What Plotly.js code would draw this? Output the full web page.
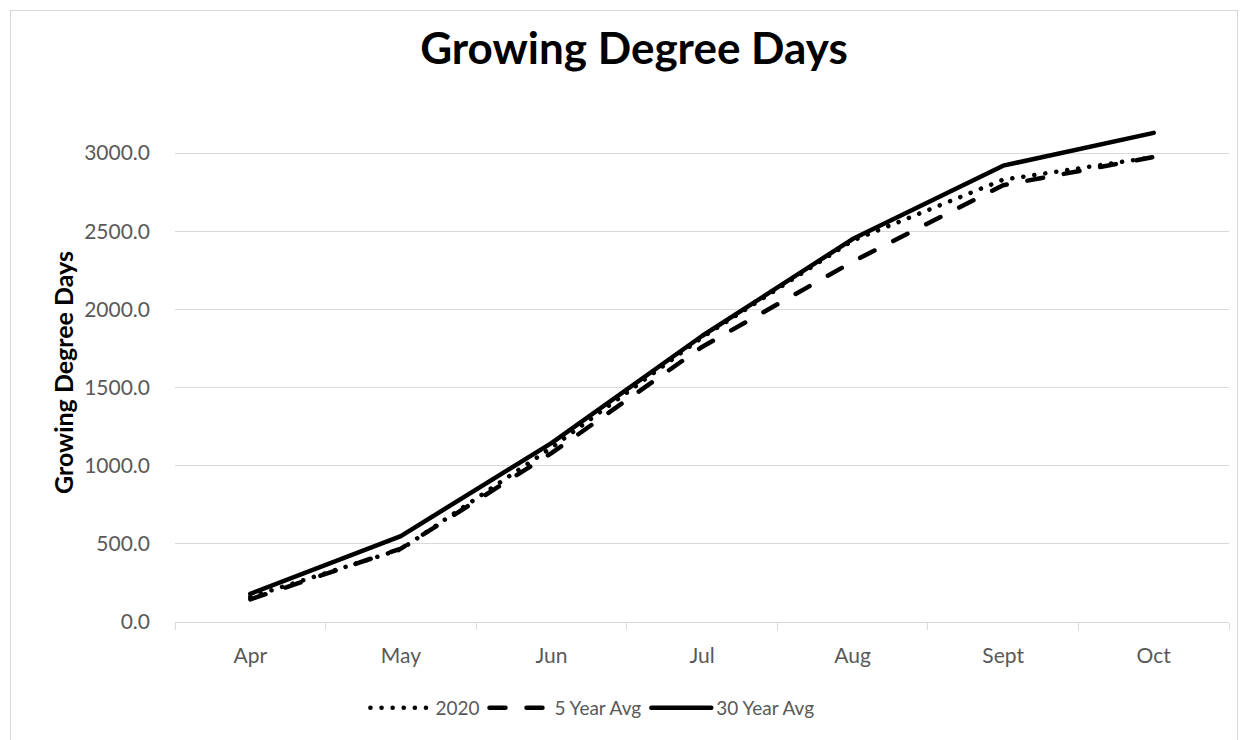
<!DOCTYPE html>
<html>
<head>
<meta charset="utf-8">
<script src="https://cdn.plot.ly/plotly-3.0.1.min.js"></script>
<style>
  html, body { margin: 0; padding: 0; background: #ffffff; }
  #frame { position: absolute; left: 10px; top: 10px; width: 1228px; height: 760px; border: 1px solid #d9d9d9; box-sizing: border-box; pointer-events: none; z-index: 5; }
  #chart { position: absolute; left: 0; top: 0; width: 1248px; height: 740px; }
  path.js-line { stroke-linecap: round !important; stroke-linejoin: round !important; }
</style>
</head>
<body>
<div id="chart"></div>
<div id="frame"></div>
<script>
const months = ["Apr", "May", "Jun", "Jul", "Aug", "Sept", "Oct"];
const gdd2020 = [160, 465, 1115, 1820, 2440, 2830, 2975];
const gdd5yr = [145, 470, 1080, 1760, 2305, 2795, 2975];
const gdd30yr = [180, 550, 1145, 1830, 2450, 2920, 3130];
const yTicks = [0, 500, 1000, 1500, 2000, 2500, 3000];
const yTitle = "Growing Degree Days";
const chartTitle = "Growing Degree Days";

const FONT = "Lato, 'Open Sans', sans-serif";
const traces = [
  { name: "2020", x: months, y: gdd2020, type: "scatter", mode: "lines",
    line: { color: "#000000", width: 4.5, dash: "0.1px,11px" } },
  { name: "5 Year Avg", x: months, y: gdd5yr, type: "scatter", mode: "lines",
    line: { color: "#000000", width: 4.5, dash: "16px,21px" } },
  { name: "30 Year Avg", x: months, y: gdd30yr, type: "scatter", mode: "lines",
    line: { color: "#000000", width: 4.5 } }
];

const layout = {
  width: 1248, height: 740,
  margin: { l: 175, r: 19, t: 75, b: 118 },
  paper_bgcolor: "#ffffff", plot_bgcolor: "#ffffff",
  font: { family: FONT, color: "#595959", size: 20 },
  title: { text: "<b>" + chartTitle + "</b>", x: 0.508, xref: "container", xanchor: "center",
           y: 0.935, yref: "container", yanchor: "middle",
           font: { family: FONT, size: 44, color: "#000000" } },
  xaxis: { type: "category", range: [-0.5, 6.5], showgrid: false, showline: true, linecolor: "#d9d9d9", linewidth: 1,
           ticks: "outside", tickson: "boundaries", ticklen: 7, tickcolor: "#d9d9d9",
           ticklabelstandoff: 15, tickfont: { size: 21, color: "#595959" }, zeroline: false,
           fixedrange: true },
  yaxis: { range: [0, 3500], tickvals: yTicks, tickformat: ".1f", showgrid: true, gridcolor: "#d9d9d9",
           gridwidth: 1, zeroline: false, showline: false, ticks: "", ticklabelstandoff: 24,
           tickfont: { size: 21, color: "#595959" } },
  annotations: [
    { text: "<b>" + yTitle + "</b>", textangle: -90, xref: "paper", yref: "paper",
      x: -0.1063, y: 0.457, xanchor: "center", yanchor: "middle", showarrow: false,
      font: { family: FONT, size: 25, color: "#000000" } }
  ],
  showlegend: true,
  legend: { orientation: "h", x: 0.396, xanchor: "center", y: -0.157, yanchor: "middle",
            font: { size: 19, color: "#595959" }, itemwidth: 60, tracegroupgap: 0 },
  hovermode: false
};

Plotly.newPlot("chart", traces, layout, { displayModeBar: false, staticPlot: true });
</script>
</body>
</html>
